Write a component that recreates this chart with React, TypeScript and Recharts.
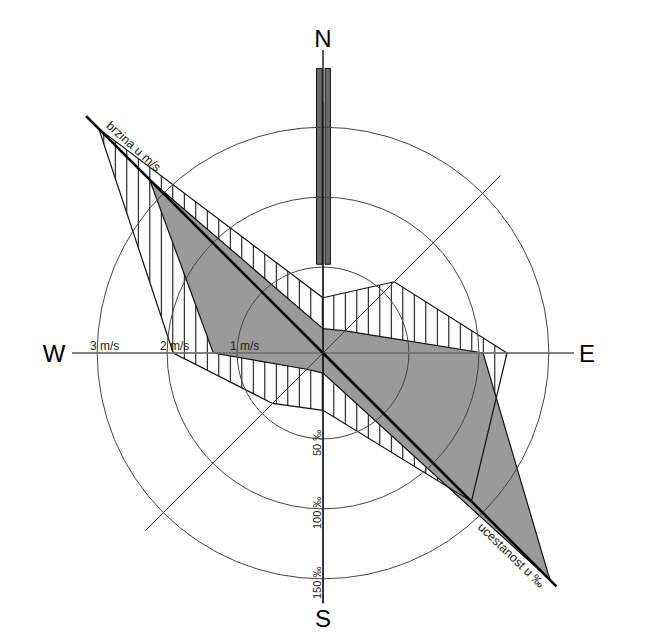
import { RadarChart, Radar, PolarGrid, PolarAngleAxis, PolarRadiusAxis } from 'recharts'

// wind directions, clockwise from north
const directions = ['N', 'NE', 'E', 'SE', 'S', 'SW', 'W', 'NW']
// frequency in per mille
const frequency = [6, 11, 103, 218, 3, 5, 67, 164]
// mean speed in m/s
const speed = [0.56, 1.21, 2.4, 2.77, 0.59, 0.79, 1.91, 4.3]
// column on the north spoke (from / to, per mille)
const columnFrom = [52, null, null, null, null, null, null, null]
const columnTo = [192, null, null, null, null, null, null, null]

const freqTicks = [50, 100, 150]
const speedTicks = [1, 2, 3]
const freqDomain = [-11.4, 167.9]
const speedDomain = [-0.229, 3.357]

const data = directions.map((dir, i) => ({
  dir,
  freq:   frequency[i],
  speed:  speed[i],
  column: columnFrom[i] == null ? null : [columnFrom[i], columnTo[i]],
}))

const CX = 323
const CY = 353
const FONT = '"Liberation Sans", Arial, sans-serif'

// distance of the N/E/S/W letters from the centre
const letterR: Record<string, number> = { N: 315, E: 264, S: 265, W: 269 }

function DirTick(props: any) {
  const { x, y, payload } = props
  const dir = payload?.value
  const dx = x - CX
  const dy = y - CY
  const len = Math.hypot(dx, dy) || 1
  const ux = dx / len
  const uy = dy / len
  const at = (r: number, off = 0) => ({ x: CX + ux * r - uy * off, y: CY + uy * r + ux * off })

  const parts: any[] = []
  if (dir === 'E' || dir === 'W') {
    const end = at(251)
    parts.push(<line key="ax" x1={CX} y1={CY} x2={end.x} y2={end.y} stroke="#777" strokeWidth={1.6} />)
  }
  if (dir === 'N' || dir === 'S') {
    const end = at(dir === 'N' ? 303 : 250)
    parts.push(<line key="ax" x1={CX} y1={CY} x2={end.x} y2={end.y} stroke="#000" strokeWidth={1.3} />)
  }
  if (dir === 'NW' || dir === 'SE') {
    const end = at(dir === 'NW' ? 335 : 330)
    parts.push(<line key="ax" x1={CX} y1={CY} x2={end.x} y2={end.y} stroke="#000" strokeWidth={2.6} />)
    const lp = dir === 'NW' ? at(280, 12) : at(276, 10)
    parts.push(
      <text
        key="lbl"
        x={lp.x}
        y={lp.y}
        transform={`rotate(${dir === 'NW' ? 42 : 44}, ${lp.x}, ${lp.y})`}
        textAnchor="middle"
        dominantBaseline="central"
        fontFamily={FONT}
        fontSize={12.5}
        fill="#222"
      >
        {dir === 'NW' ? 'brzina u m/s' : 'ucestanost u ‰'}
      </text>
    )
  }
  if (letterR[dir]) {
    const p = at(letterR[dir])
    parts.push(
      <text key="dir" x={p.x} y={p.y} textAnchor="middle" dominantBaseline="central"
        fontFamily={FONT} fontSize={24} fill="#000">
        {dir}
      </text>
    )
  }
  return <g>{parts}</g>
}

function FreqTick(props: any) {
  const { x, y, payload } = props
  return (
    <text
      transform={`translate(${x - 2}, ${y + 4}) rotate(-90)`}
      textAnchor="middle"
      fontFamily={FONT}
      fontSize={11}
      fill="#222"
    >
      {payload.value} ‰
    </text>
  )
}

function SpeedTick(props: any) {
  const { x, y, payload } = props
  return (
    <text x={x - 7} y={y - 3} textAnchor="start" fontFamily={FONT} fontSize={12} fill="#222">
      {payload.value} m/s
    </text>
  )
}

function ColumnShape(props: any) {
  const { points = [], baseLinePoints = [] } = props
  return (
    <g>
      {points.map((p: any, i: number) => {
        const b = baseLinePoints[i]
        if (!Array.isArray(p.value) || !b) return null
        const dx = p.x - b.x
        const dy = p.y - b.y
        const len = Math.hypot(dx, dy) || 1
        const nx = -dy / len
        const ny = dx / len
        const rect = (o1: number, o2: number) =>
          [
            [b.x + nx * o1, b.y + ny * o1],
            [p.x + nx * o1, p.y + ny * o1],
            [p.x + nx * o2, p.y + ny * o2],
            [b.x + nx * o2, b.y + ny * o2],
          ].map(q => q.join(',')).join(' ')
        return (
          <g key={i}>
            <polygon points={rect(-6.5, -0.8)} fill="#6a6a6a" stroke="#111" strokeWidth={1} />
            <polygon points={rect(2, 7.4)} fill="#6a6a6a" stroke="#111" strokeWidth={1} />
          </g>
        )
      })}
    </g>
  )
}

export default function App() {
  return (
    <div style={{ position: 'absolute', left: 0, top: 0, width: 654, height: 635, background: '#fff' }}>
      <svg width={0} height={0} style={{ position: 'absolute' }}>
        <defs>
          <pattern id="hatch" patternUnits="userSpaceOnUse" x={103.3} y={0} width={11.5} height={10}>
            <line x1={0.5} y1={0} x2={0.5} y2={10} stroke="#000" strokeWidth={1} />
          </pattern>
        </defs>
      </svg>
      <RadarChart
        width={654}
        height={635}
        data={data}
        cx={CX}
        cy={CY}
        outerRadius={251}
        margin={{ top: 0, right: 0, bottom: 0, left: 0 }}
      >
        <PolarAngleAxis dataKey="dir" tick={DirTick} tickLine={false} axisLine={false} />
        <PolarRadiusAxis
          type="number"
          angle={-90}
          domain={freqDomain}
          allowDataOverflow
          ticks={freqTicks}
          tick={FreqTick}
          axisLine={false}
          tickLine={false}
        />
        <PolarRadiusAxis
          radiusAxisId="speed"
          type="number"
          angle={180}
          domain={speedDomain}
          allowDataOverflow
          ticks={speedTicks}
          tick={SpeedTick}
          axisLine={false}
          tickLine={false}
        />
        <Radar dataKey="speed" radiusAxisId="speed" fill="url(#hatch)" fillOpacity={1} stroke="none" isAnimationActive={false} />
        <Radar dataKey="freq" fill="#9a9a9a" fillOpacity={1} stroke="#111" strokeWidth={1.2} isAnimationActive={false} />
        <Radar dataKey="speed" radiusAxisId="speed" fill="none" fillOpacity={0} stroke="#111" strokeWidth={1.2} isAnimationActive={false} />
        <Radar dataKey="column" shape={ColumnShape} isAnimationActive={false} />
        <PolarGrid gridType="circle" stroke="#444" strokeWidth={1} zIndex={450} />
      </RadarChart>
    </div>
  )
}
